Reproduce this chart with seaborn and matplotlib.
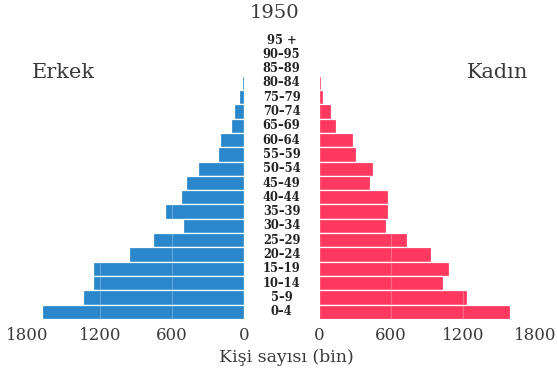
import matplotlib
matplotlib.use("Agg")
import matplotlib.pyplot as plt
import seaborn as sns
import pandas as pd

age_groups = ["0–4", "5–9", "10–14", "15–19", "20–24", "25–29", "30–34", "35–39",
              "40–44", "45–49", "50–54", "55–59", "60–64", "65–69", "70–74",
              "75–79", "80–84", "85–89", "90–95", "95 +"]
erkek = [1680, 1340, 1255, 1255, 957, 762, 505, 662, 527, 485, 386, 218, 199,
         110, 88, 41, 22, 5, 2, 1]
kadin = [1585, 1230, 1027, 1083, 933, 733, 555, 575, 575, 428, 447, 311, 286,
         139, 100, 36, 19, 10, 2, 1]
x_ticks = [0, 600, 1200, 1800]

order = age_groups[::-1]
df = pd.DataFrame({"age": age_groups, "Erkek": erkek, "Kadın": kadin})

sns.set_theme(style="white")
plt.rcParams["font.family"] = ["DejaVu Serif"]

W, H = 557, 373
fig = plt.figure(figsize=(W / 100, H / 100), dpi=100)

def px(x0, x1, ytop, ybot):
    return [x0 / W, 1 - ybot / H, (x1 - x0) / W, (ybot - ytop) / H]

ax_l = fig.add_axes(px(27.5, 244.3, 32.9, 318.9))
ax_r = fig.add_axes(px(319, 535.5, 32.9, 318.9))

blue = "#2B87CB"
red = "#FF3860"
txt = "#3a3a3a"

sns.barplot(data=df, x="Erkek", y="age", order=order, color=blue, width=1.0,
            edgecolor="white", linewidth=0.9, saturation=1, ax=ax_l)
sns.barplot(data=df, x="Kadın", y="age", order=order, color=red, width=1.0,
            edgecolor="white", linewidth=0.9, saturation=1, ax=ax_r)

ax_l.set_xlim(1800, 0)
ax_r.set_xlim(0, 1800)

for ax in (ax_l, ax_r):
    ax.set_ylim(len(order) - 0.5, -0.5)
    ax.set_xticks(x_ticks)
    ax.set_xticklabels([str(t) for t in x_ticks], fontsize=12, color=txt)
    ax.tick_params(axis="x", length=0, pad=6)
    ax.set_yticks([])
    ax.set_xlabel("")
    ax.set_ylabel("")
    for s in ax.spines.values():
        s.set_visible(False)
    ax.grid(axis="x", color="white", alpha=0.25, linewidth=0.8)
    ax.set_axisbelow(False)

# age labels in the centre
for i, lab in enumerate(order):
    ax_l.text((281.5 - 27.5) / (244.3 - 27.5), i, lab, transform=ax_l.get_yaxis_transform(),
              ha="center", va="center", fontsize=8.3, fontweight="bold",
              color="#222222", clip_on=False)

fig.text(274 / W, 1 - 13 / H, "1950", ha="center", va="center", fontsize=14, color=txt)
fig.text(63 / W, 1 - 72 / H, "Erkek", ha="center", va="center", fontsize=15, color=txt)
fig.text(498 / W, 1 - 72 / H, "Kadın", ha="center", va="center", fontsize=15, color=txt)
fig.text(286 / W, 1 - 357 / H, "Kişi sayısı (bin)", ha="center", va="center",
         fontsize=12.5, color=txt)

fig.savefig("out.png", dpi=100)
